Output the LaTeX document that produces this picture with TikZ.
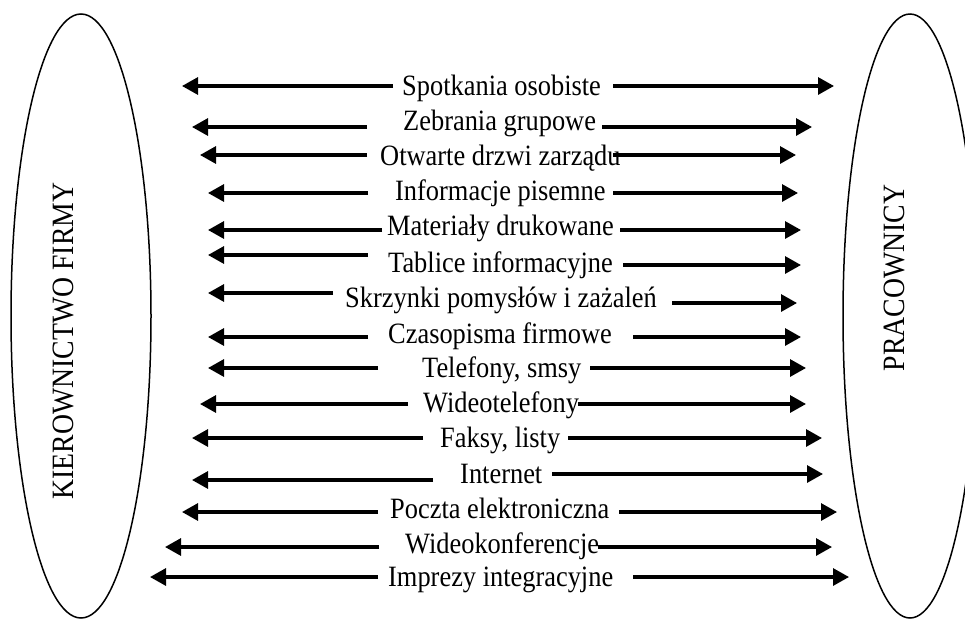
\documentclass[tikz,border=0pt]{standalone}
\usepackage{fontspec}
\setmainfont{Liberation Serif}
\newfontfamily\lblfont{Liberation Serif}[FakeStretch=0.895]
\usetikzlibrary{arrows.meta,shapes.geometric}
\begin{document}
\begin{tikzpicture}[x=1pt,y=-1pt,
  lbl/.style={anchor=base west,inner sep=0pt,font=\lblfont\fontsize{29.5}{32}\selectfont},
  vlbl/.style={rotate=90,inner sep=0pt,font=\lblfont\fontsize{31}{34}\selectfont},
  conn/.style={line width=3.1pt,-{Triangle[length=16pt,width=17pt]}},
  side/.style={draw,line width=1.5pt,ellipse,minimum width=#1,minimum height=604pt,inner sep=0pt}]
\useasboundingbox (0,0) rectangle (965,619);
\clip (0,0) rectangle (965,619);
\node[side=140pt] (mgmt) at (81,316) {};
\node[side=134pt] (staff) at (910,316) {};
\node[vlbl] (mgmtlbl) at (63,341) {KIEROWNICTWO FIRMY};
\node[vlbl] (stafflbl) at (894,278) {PRACOWNICY};
\foreach \i/\yl/\yr/\lt/\ltl/\tx/\ty/\rs/\rt/\txt in {
  1/86/86/182/393/402/95/613/834/{Spotkania osobiste},
  2/127/127/192/367/403/130/602/812/{Zebrania grupowe},
  3/155/155/200/367/380/165/613/796/{Otwarte drzwi zarządu},
  4/193/193/208/368/395/200/613/798/{Informacje pisemne},
  5/230/230/208/382/387/235/620/801/{Materiały drukowane},
  6/255/265/208/368/388/272/623/801/{Tablice informacyjne},
  7/293/303/208/333/345/307/672/797/{Skrzynki pomysłów i zażaleń},
  8/337/337/208/368/388/343/633/801/{Czasopisma firmowe},
  9/368/368/208/378/422/377/590/806/{Telefony, smsy},
  10/404/404/200/408/423/412/578/806/{Wideotelefony},
  11/438/438/192/423/440/447/568/822/{Faksy, listy},
  12/480/474/192/433/460/483/552/823/{Internet},
  13/512/512/182/378/390/518/619/837/{Poczta elektroniczna},
  14/547/547/165/379/405/553/598/832/{Wideokonferencje},
  15/577/577/150/378/388/586/633/849/{Imprezy integracyjne}}{
  \node[lbl] (t\i) at (\tx,\ty) {\txt};
  \coordinate (la\i) at (\ltl,\yl);
  \coordinate (lb\i) at (\lt,\yl);
  \coordinate (ra\i) at (\rs,\yr);
  \coordinate (rb\i) at (\rt,\yr);
  \draw[conn] (la\i) -- (lb\i);
  \draw[conn] (ra\i) -- (rb\i);
}
\end{tikzpicture}
\end{document}
